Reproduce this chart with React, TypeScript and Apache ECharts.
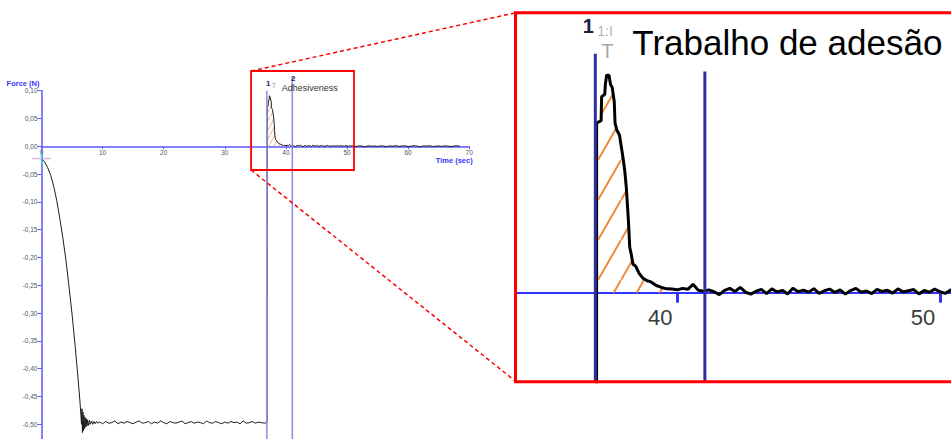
import React, { useEffect, useRef } from 'react';
import * as echarts from 'echarts';

// ---- Data (time in s, force in N) ----
const descentTime = [0, 0.5, 1, 1.5, 2, 2.5, 3, 3.5, 4, 4.5, 5, 5.5, 6, 6.3, 6.55];
const descentForce = [-0.022, -0.028, -0.038, -0.052, -0.072, -0.098, -0.13, -0.165, -0.205, -0.252, -0.302, -0.358, -0.42, -0.46, -0.5];

const ringTime = [6.62, 6.7, 6.78, 6.86, 6.95, 7.05, 7.15, 7.25, 7.35, 7.45, 7.55, 7.7, 7.85, 8.0, 8.2, 8.4, 8.6, 8.8, 9.0, 9.2];
const ringForce = [-0.472, -0.515, -0.478, -0.512, -0.484, -0.508, -0.488, -0.505, -0.49, -0.503, -0.492, -0.502, -0.493, -0.5, -0.494, -0.5, -0.495, -0.499, -0.495, -0.498];

const plateauStart = 9.5;
const plateauStep = 0.5;
const plateauForce = [
  -0.496, -0.499, -0.495, -0.498, -0.497, -0.494, -0.499, -0.496, -0.498, -0.495,
  -0.497, -0.499, -0.496, -0.494, -0.498, -0.497, -0.495, -0.499, -0.496, -0.498,
  -0.494, -0.497, -0.499, -0.495, -0.497, -0.498, -0.496, -0.494, -0.499, -0.497,
  -0.495, -0.498, -0.496, -0.497, -0.499, -0.494, -0.497, -0.498, -0.495, -0.497,
  -0.499, -0.496, -0.498, -0.495, -0.497, -0.496, -0.499, -0.494, -0.498, -0.497,
  -0.495, -0.498, -0.496, -0.497, -0.498,
];
const releaseTime = [36.8, 36.92];
const releaseForce = [-0.497, -0.497];

const peakTime = [36.93, 37.1, 37.12, 37.24, 37.26, 37.31, 37.4, 37.46, 37.52, 37.6, 37.63, 37.7, 37.8, 37.87, 37.94, 38.0, 38.06, 38.1, 38.14, 38.19, 38.25, 38.31, 38.42, 38.55, 38.7, 38.85, 39.0, 39.2, 39.4, 39.6];
const peakForce = [0.071, 0.072, 0.082, 0.083, 0.087, 0.091, 0.091, 0.087, 0.086, 0.08, 0.071, 0.068, 0.066, 0.061, 0.056, 0.051, 0.044, 0.037, 0.03, 0.019, 0.016, 0.012, 0.011, 0.008, 0.006, 0.005, 0.0045, 0.003, 0.0022, 0.0016];

const tailStart = 39.8;
const tailStep = 0.2;
const tailForce = [
  0.0015, 0.0012, 0.0018, 0.0014, 0.0035, 0.001, 0.0006, 0.0012, 0.0004, -0.0008,
  0.001, 0.0018, 0.0005, 0.0022, 0.0002, -0.0006, 0.0006, 0.0014, -0.0004, 0.0016,
  0.0003, 0.001, -0.0005, 0.0019, 0.0004, 0.0011, 0.0002, 0.0017, -0.0003, 0.0008,
  0.0015, 0.0001, 0.0012, -0.0006, 0.0009, 0.0018, 0.0002, 0.0007, -0.0004, 0.0014,
  0.0005, 0.001, -0.0002, 0.0016, 0.0003, 0.0008, 0.0013, -0.0005, 0.0009, 0.0002,
  0.0015, 0.0004, -0.0003, 0.0011, 0.0006,
];
const endStart = 51.0;
const endStep = 0.5;
const endForce = [
  0.0005, -0.0004, 0.0008, 0.0002, -0.0006, 0.001, 0.0001, 0.0006, -0.0003, 0.0009,
  0.0003, -0.0005, 0.0007, 0.0002, 0.0011, -0.0002, 0.0005, 0.0008, -0.0004, 0.0003,
  0.001, 0.0001, -0.0006, 0.0007, 0.0004, 0.0009, -0.0003, 0.0002, 0.0006, -0.0001,
  0.0008, 0.0003, -0.0004, 0.0005, 0.0009, 0.0002,
];

// markers (cursor lines 1 and 2)
const markerTime = [36.88, 41.05];
const markerLabels = ['1', '2'];
const mainMarkerTop = [0.1, 0.125];
const insetMarkerTop = [0.1, 0.0925];
const cursorPoint = [0, -0.022];

// axes
const mainTime = [0, 70];
const mainForce = [-0.55, 0.1];
const insetTime = [33.86, 52];
const insetForce = [-0.03724, 0.11715];
const insetTicks = [40, 50];
const zoomTime = [34.3, 51.15];
const zoomForce = [-0.0426, 0.1354];

function pairs(t: number[], v: number[]) {
  return t.map((x, i) => [x, v[i]]);
}
function stepped(start: number, step: number, v: number[]) {
  return v.map((y, i) => [+(start + i * step).toFixed(3), y]);
}

const curve = [
  ...pairs(descentTime, descentForce),
  ...pairs(ringTime, ringForce),
  ...stepped(plateauStart, plateauStep, plateauForce),
  ...pairs(releaseTime, releaseForce),
  ...pairs(peakTime, peakForce),
  ...stepped(tailStart, tailStep, tailForce),
  ...stepped(endStart, endStep, endForce),
];
const hatchData = pairs(peakTime, peakForce);

function makeHatch(w: number, h: number, color: string, lw: number) {
  const c = document.createElement('canvas');
  c.width = w;
  c.height = h;
  const ctx = c.getContext('2d')!;
  ctx.strokeStyle = color;
  ctx.lineWidth = lw;
  for (const k of [-1, 0, 1]) {
    ctx.beginPath();
    ctx.moveTo(0, h + k * h);
    ctx.lineTo(w, k * h);
    ctx.stroke();
  }
  return { image: c.toDataURL(), repeat: 'repeat', imageWidth: w, imageHeight: h };
}

const FONT = 'Liberation Sans, Arial, sans-serif';
const fmt = (v: number) => v.toFixed(2).replace('-0.00', '0.00').replace('.', ',');

// grid geometry
const W = 951;
const H = 439;
const mainGrid = { left: 41.5, top: 90.7, right: 481.8, bottom: -13.1 };
const insetGrid = { left: 516, top: 12.7, right: -41.5, bottom: 57.3 };
// place the x axis line on force = 0 (offset from the grid's bottom edge)
const zeroOffset = (g: { top: number; bottom: number }, f: number[]) => {
  const h = H - g.top - g.bottom;
  return -h * (0 - f[0]) / (f[1] - f[0]);
};

export default function App() {
  const ref = useRef<HTMLDivElement>(null);
  useEffect(() => {
    if (!ref.current) return;
    const chart = echarts.init(ref.current, null, { renderer: 'svg' });

    const markerRender = (color: string, width: number) => (params: any, api: any) => {
      const p = api.coord([api.value(0), api.value(1)]);
      const cs = params.coordSys;
      return {
        type: 'line',
        shape: { x1: p[0], y1: p[1], x2: p[0], y2: cs.y + cs.height },
        style: { stroke: color, lineWidth: width },
      };
    };

    chart.setOption({
      animation: false,
      textStyle: { fontFamily: FONT },
      grid: [
        { ...mainGrid, outerBoundsMode: 'none' },
        { ...insetGrid, outerBoundsMode: 'none' },
      ],
      xAxis: [
        {
          type: 'value', gridIndex: 0, min: mainTime[0], max: mainTime[1], interval: 10,
          position: 'bottom', offset: zeroOffset(mainGrid, mainForce),
          name: 'Time (sec)', nameLocation: 'end', nameGap: 3.5,
          nameTextStyle: { color: '#3434ff', fontSize: 7.5, fontWeight: 'bold', align: 'right', verticalAlign: 'top', padding: [10, 0, 0, 0] },
          axisLine: { show: true, onZero: false, lineStyle: { color: '#5a5aff', width: 1.5 } },
          axisTick: { show: true, length: 3, lineStyle: { color: '#5a5aff', width: 1 } },
          axisLabel: { fontSize: 6.5, color: '#555', margin: 3 },
          splitLine: { show: false },
        },
        {
          type: 'value', gridIndex: 1, min: insetTime[0], max: insetTime[1],
          position: 'bottom', offset: zeroOffset(insetGrid, insetForce),
          axisLine: { show: true, onZero: false, lineStyle: { color: '#3333ff', width: 2 } },
          axisTick: { show: true, customValues: insetTicks, length: 10, lineStyle: { color: '#3333ff', width: 3 } },
          axisLabel: { customValues: insetTicks, fontSize: 22, color: '#3a3a3a', margin: 14, padding: [0, 34, 0, 0] },
          splitLine: { show: false },
        },
      ],
      yAxis: [
        {
          type: 'value', gridIndex: 0, min: mainForce[0], max: mainForce[1], interval: 0.05,
          name: 'Force (N)', nameLocation: 'end', nameGap: 7,
          nameTextStyle: { color: '#3434ff', fontSize: 7.5, fontWeight: 'bold', align: 'right', verticalAlign: 'middle', padding: [0, 2, 0, 0] },
          axisLine: { show: true, onZero: false, lineStyle: { color: '#5a5aff', width: 1.5 } },
          axisTick: { show: true, length: 4, lineStyle: { color: '#5a5aff', width: 1 } },
          axisLabel: { fontSize: 6.5, color: '#555', margin: 4, formatter: fmt, showMinLabel: false },
          splitLine: { show: false },
        },
        { type: 'value', gridIndex: 1, min: insetForce[0], max: insetForce[1], show: false },
      ],
      series: [
        {
          type: 'line', xAxisIndex: 0, yAxisIndex: 0, data: curve, showSymbol: false, z: 3,
          lineStyle: { color: '#1c1c1c', width: 1 },
        },
        {
          type: 'line', xAxisIndex: 0, yAxisIndex: 0, data: hatchData, showSymbol: false, z: 2,
          lineStyle: { width: 0 },
          areaStyle: { color: makeHatch(5, 9, '#f2a36a', 0.9), opacity: 1 },
        },
        {
          type: 'custom', xAxisIndex: 0, yAxisIndex: 0, z: 4,
          data: pairs(markerTime, mainMarkerTop),
          encode: { x: 0, y: 1 },
          renderItem: markerRender('#8c8ce8', 1.5),
        },
        {
          type: 'scatter', xAxisIndex: 0, yAxisIndex: 0, z: 5, clip: false,
          data: [
            { value: cursorPoint, symbol: 'rect', symbolSize: [19, 1.5], itemStyle: { color: '#cfa3e6' } },
            { value: cursorPoint, symbol: 'rect', symbolSize: [1.5, 11], itemStyle: { color: '#3ee8d8' } },
          ],
        },
        {
          type: 'line', xAxisIndex: 1, yAxisIndex: 1, data: curve, showSymbol: false, z: 3,
          lineStyle: { color: '#000', width: 3 },
        },
        {
          type: 'line', xAxisIndex: 1, yAxisIndex: 1, data: hatchData, showSymbol: false, z: 2,
          lineStyle: { width: 0 },
          areaStyle: { color: makeHatch(23, 40, '#f08a3c', 2), opacity: 1 },
        },
        {
          type: 'custom', xAxisIndex: 1, yAxisIndex: 1, z: 4,
          data: pairs(markerTime, insetMarkerTop),
          encode: { x: 0, y: 1 },
          renderItem: markerRender('#2e2e9e', 3),
        },
      ],
    });

    const px = (g: number, v: number[]) => chart.convertToPixel({ gridIndex: g } as any, v) as number[];
    const m1 = px(0, [markerTime[0], mainMarkerTop[0]]);
    const m2 = px(0, [markerTime[1], mainMarkerTop[1]]);
    const i1 = px(1, [markerTime[0], insetMarkerTop[0]]);
    const zA = px(0, [zoomTime[0], zoomForce[1]]);
    const zB = px(0, [zoomTime[1], zoomForce[0]]);
    const iA = px(1, [insetTime[0], insetForce[1]]);
    const iB = px(1, [insetTime[1], insetForce[0]]);

    const txt = (x: number, y: number, text: string, size: number, fill: string, extra: any = {}) => ({
      type: 'text', x, y, z: 20,
      style: { text, fontSize: size, fill, fontFamily: FONT, align: 'center', verticalAlign: 'middle', ...extra },
    });

    chart.setOption({
      graphic: [
        { type: 'rect', z: 30, shape: { x: zA[0], y: zA[1], width: zB[0] - zA[0], height: zB[1] - zA[1] }, style: { fill: 'none', stroke: '#ff0000', lineWidth: 1.8 } },
        { type: 'rect', z: 30, shape: { x: iA[0] - 0.5, y: iA[1], width: iB[0] - iA[0] + 20, height: iB[1] - iA[1] }, style: { fill: 'none', stroke: '#ff0000', lineWidth: 3 } },
        { type: 'line', z: 30, shape: { x1: zA[0], y1: zA[1], x2: iA[0], y2: iA[1] }, style: { stroke: '#ff0000', lineWidth: 1.5, lineDash: [4, 3] } },
        { type: 'line', z: 30, shape: { x1: zA[0], y1: zB[1], x2: iA[0], y2: iB[1] }, style: { stroke: '#ff0000', lineWidth: 1.5, lineDash: [4, 3] } },
        txt(m1[0] + 1.5, m1[1] - 7, markerLabels[0], 8, '#202050', { fontWeight: 'bold' }),
        txt(m1[0] + 7, m1[1] - 5, 'T', 7, '#9a9a9a'),
        txt(m2[0] + 1, m2[1] + 2, markerLabels[1], 8, '#202050', { fontWeight: 'bold' }),
        txt(m1[0] + 15, m1[1] - 3, 'Adhesiveness', 9, '#333', { align: 'left' }),
        txt(i1[0] - 7, i1[1] - 28, markerLabels[0], 20, '#1e1e46', { fontWeight: 'bold' }),
        txt(i1[0] + 2, i1[1] - 23, '1:I', 14, '#b4b4b4', { align: 'left' }),
        txt(i1[0] + 12, i1[1] - 3, 'T', 20, '#a8a8a8'),
        txt(i1[0] + 37, i1[1] - 11, 'Trabalho de adesão', 35, '#000', { align: 'left' }),
      ],
    });

    return () => chart.dispose();
  }, []);
  return <div ref={ref} style={{ position: 'absolute', left: 0, top: 0, width: W, height: H, background: '#fff' }} />;
}
